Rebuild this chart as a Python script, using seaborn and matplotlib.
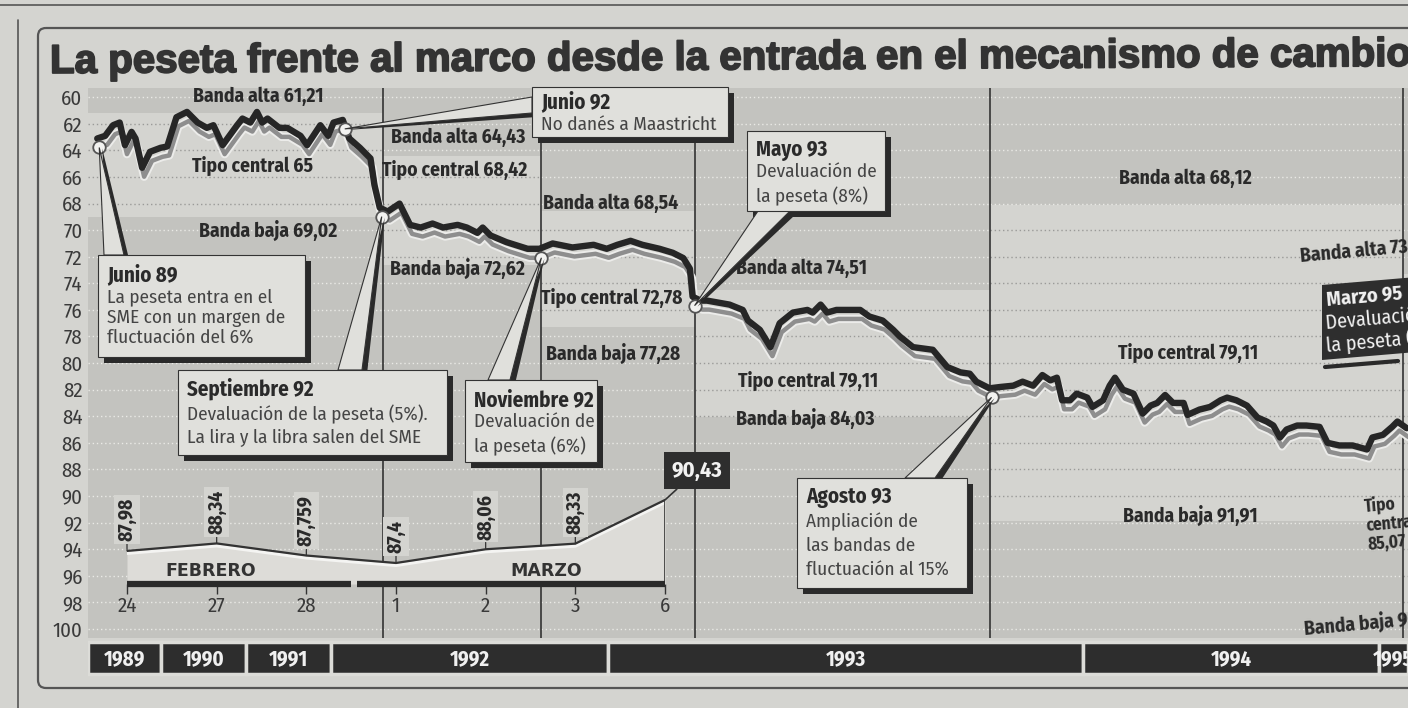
import numpy as np
import pandas as pd
import seaborn as sns
import matplotlib.pyplot as plt
import matplotlib.transforms as mtransforms
import matplotlib.patheffects as pe
from matplotlib import font_manager as fm
from matplotlib.patches import Rectangle, Polygon, FancyBboxPatch
from matplotlib.lines import Line2D

# --- datos -------------------------------------------------------------
# posición a lo largo del eje (0 = entrada, jun 89; 100 = borde derecho, mar 95)
pos = [0.7, 1.3, 1.9, 2.4, 2.8, 3.3, 3.6, 4.1, 4.7, 5.5, 6.0, 6.7, 7.5, 8.3, 9.0,
       9.5, 10.2, 11.3, 11.7, 12.3, 12.8, 13.2, 13.6, 14.5, 15.1, 16.1, 16.6, 17.6,
       18.2, 18.6, 19.3, 19.8, 20.6, 21.4, 21.7, 22.1, 22.7, 23.6, 24.4, 25.2, 26.1,
       26.9, 28.0, 28.7, 29.5, 29.9, 30.5, 31.7, 33.3, 34.2, 35.2, 36.7, 38.3, 39.3,
       40.1, 41.1, 42.0, 43.3, 44.3, 45.1, 45.6, 45.8, 46.4, 46.9, 48.6, 49.6, 50.0,
       50.9, 51.7, 52.4, 53.4, 54.5, 54.9, 55.5, 56.0, 56.7, 58.5, 59.2, 60.2, 61.0,
       61.5, 62.5, 64.0, 65.1, 66.1, 66.8, 67.3, 68.3, 69.1, 70.1, 70.8, 71.6, 72.3,
       72.9, 73.4, 73.8, 74.4, 74.9, 75.7, 76.1, 76.9, 77.4, 77.8, 78.4, 79.2, 79.9,
       80.5, 81.0, 81.6, 82.2, 83.0, 83.3, 84.2, 85.0, 85.8, 86.3, 87.0, 87.8, 88.6,
       89.3, 89.8, 90.3, 90.8, 91.6, 92.3, 93.3, 93.9, 94.8, 95.8, 96.9, 97.3, 98.1,
       98.8, 99.2, 99.9]
cambio = [63.1, 62.9, 62.1, 61.9, 63.6, 62.6, 63.1, 65.3, 64.1, 63.8, 63.7, 61.5, 61.1,
          61.9, 62.3, 62.1, 63.6, 62.1, 61.6, 61.9, 61.1, 61.9, 61.6, 62.3, 62.3, 62.9,
          63.6, 62.1, 62.9, 61.9, 61.7, 63.1, 63.8, 64.6, 66.6, 68.3, 68.6, 68.0, 69.6,
          69.8, 69.5, 69.8, 69.6, 69.8, 70.2, 69.8, 70.4, 70.9, 71.4, 71.4, 71.0, 71.3,
          71.1, 71.4, 71.1, 70.8, 71.1, 71.4, 71.7, 72.1, 72.9, 75.0, 75.3, 75.3, 75.6,
          76.0, 76.8, 77.5, 78.8, 77.0, 76.2, 76.0, 76.2, 75.6, 76.2, 76.0, 76.0, 76.5,
          76.8, 77.5, 78.0, 78.8, 79.0, 80.3, 80.7, 80.8, 81.4, 81.9, 81.8, 81.7, 81.4,
          81.7, 80.9, 81.3, 81.1, 82.8, 82.8, 82.3, 82.6, 83.3, 82.8, 81.7, 81.1, 82.0,
          82.3, 83.8, 83.2, 83.0, 82.4, 83.0, 83.0, 83.9, 83.5, 83.3, 82.8, 82.6, 82.8,
          83.2, 84.1, 84.4, 84.7, 85.6, 85.0, 84.7, 84.7, 84.8, 86.0, 86.2, 86.2, 86.5,
          85.6, 85.4, 84.8, 84.4, 84.9]

# tramos de bandas del SME
tramo_ini = [0, 22.35, 34.3, 46.0, 68.3, 99.6]
tramo_fin = [22.35, 34.3, 46.0, 68.3, 99.6, 100]
banda_alta = [61.21, 64.43, 68.54, 74.51, 68.12, 73.26]
tipo_central = [65.00, 68.42, 72.78, 79.11, 79.11, 85.07]
banda_baja = [69.02, 72.62, 77.28, 84.03, 91.91, 98.70]

# acontecimientos (sobre la serie)
ev_pos = [0.7, 19.3, 22.1, 34.2, 45.8, 68.3]
ev_val = [63.1, 61.7, 68.3, 71.4, 75.0, 81.9]
cortes = [22.35, 34.3, 46.0, 68.3, 99.6]

anios = ['1989', '1990', '1991', '1992', '1993', '1994', '1995']
anio_ini = [0, 5.5, 12.0, 18.4, 39.4, 75.4, 97.8]
anio_fin = [5.5, 12.0, 18.4, 39.4, 75.4, 97.8, 100]

# detalle febrero - marzo 95
dias = ['24', '27', '28', '1', '2', '3', '6']
ultimo = [87.98, 88.34, 87.759, 87.4, 88.06, 88.33, 90.43]
ultimo_txt = ['87,98', '88,34', '87,759', '87,4', '88,06', '88,33', '90,43']


# --- fuentes -----------------------------------------------------------
def elegir(prefs, fallback='DejaVu Sans'):
    pesos = {}
    for f in fm.fontManager.ttflist:
        w = f.weight if isinstance(f.weight, int) else fm.weight_dict.get(f.weight, 400)
        pesos.setdefault(f.name, set()).add(w)
    for p in prefs:
        if {400, 700} <= pesos.get(p, set()):
            return p
    return fallback


sns.set_theme(style="white")
COND = [elegir(['Fira Sans Condensed', 'IBM Plex Sans Condensed', 'Barlow Condensed',
                'PT Sans Narrow', 'Encode Sans Condensed', 'Liberation Sans Narrow',
                'Liberation Sans']), 'DejaVu Sans']
TIT = [elegir(['Liberation Sans', 'Arimo']), 'DejaVu Sans']
plt.rcParams['font.family'] = COND

PAPEL = '#d4d4d0'
OSCURO = '#c3c3bf'
TINTA = '#2a2a2a'
CAJA = '#e0e0dc'

W, H = 1408, 708
fig = plt.figure(figsize=(W / 100, H / 100), dpi=100, facecolor=PAPEL)
T = mtransforms.Affine2D().scale(1 / W, -1 / H).translate(0, 1) + fig.transFigure


def fmt(v):
    return f"{v:g}".replace('.', ',')


# marco de la página
fig.add_artist(Line2D([0, W], [5, 5], transform=T, color='#555', lw=1.2))
fig.add_artist(Line2D([18, 18], [20, H], transform=T, color='#555', lw=1.2))
fig.add_artist(FancyBboxPatch((38, 28), 1440, 660, boxstyle='round,pad=0,rounding_size=8',
                              transform=T, fc='none', ec='#555', lw=1.6))

fig.text(50, 62, 'La peseta frente al marco desde la entrada en el mecanismo de cambios',
         transform=T, fontsize=29, weight='bold', color='#333', va='center',
         family=TIT, rotation=0.3, rotation_mode='anchor',
         path_effects=[pe.withStroke(linewidth=1.3, foreground='#333')])

# --- gráfico principal -------------------------------------------------
ax = fig.add_axes([88 / W, 1 - 682 / H, 1320 / W, 594 / H])
ax.patch.set_alpha(0)
TOP, BOT = 59.3, 100.7

for a, b, al, ba in zip(tramo_ini, tramo_fin, banda_alta, banda_baja):
    ax.fill_between([a, b], TOP, al, color=OSCURO, lw=0, zorder=0)
    ax.fill_between([a, b], ba, BOT, color=OSCURO, lw=0, zorder=0)
    for v in range(60, 101, 2):
        fuera = v < al or v > ba
        ax.hlines(v, a, b, color='#eaeae6' if fuera else '#9a9a98', lw=1,
                  ls=(0, (1, 2)), zorder=1)
ax.vlines(cortes, TOP, BOT, color='#333', lw=1.2, zorder=2)

df = pd.DataFrame({'pos': pos, 'cambio': cambio})
sombra_tf = mtransforms.offset_copy(ax.transData, fig=fig, x=2, y=-9, units='dots')
sns.lineplot(data=df, x='pos', y='cambio', ax=ax, estimator=None, sort=False,
             color='#8e8e8e', lw=3.2, zorder=4,
             path_effects=[pe.Stroke(linewidth=6, foreground='#ececea'), pe.Normal()])
ax.lines[-1].set_transform(sombra_tf)
sns.lineplot(data=df, x='pos', y='cambio', ax=ax, estimator=None, sort=False,
             color='#262626', lw=4.6, zorder=5)
ax.plot(ev_pos, ev_val, 'o', ms=9, mfc='#f2f2f0', mec='#555', mew=1.3,
        transform=sombra_tf, zorder=6)

# barra de años
ax.barh([102.2] * len(anios), [b - a for a, b in zip(anio_ini, anio_fin)], left=anio_ini,
        height=2.45, color='#2d2d2d', edgecolor='#dcdcd8', linewidth=2.5, zorder=3)
for a, b, t in zip(anio_ini, anio_fin, anios):
    ax.text((a + b) / 2, 102.3, t, ha='center', va='center', color='#f0f0f0',
            fontsize=15, weight='bold', zorder=4, clip_on=True)

ax.set_xlim(0, 100)
ax.set_ylim(104.0, TOP)
ax.set_xlabel('')
ax.set_ylabel('')
ax.set_xticks([])
ax.set_yticks(range(60, 101, 2))
ax.tick_params(axis='y', length=0, pad=4, labelsize=15, labelcolor='#3a3a3a')
for s in ax.spines.values():
    s.set_visible(False)

# rótulos de bandas
etq_pos = [
    [(258, 96), (253, 166), (268, 230)],
    [(458, 137), (455, 170), (457, 268)],
    [(611, 203), (612, 298), (613, 353)],
    [(801, 268), (808, 381), (805, 418)],
    [(1185, 178), (1188, 353), (1190, 515)],
]
for i, trio in enumerate(etq_pos):
    textos = ['Banda alta ' + fmt(banda_alta[i]), 'Tipo central ' + fmt(tipo_central[i]),
              'Banda baja ' + fmt(banda_baja[i])]
    for (x, y), t in zip(trio, textos):
        ax.text(x, y, t, transform=T, ha='center', va='center', fontsize=14,
                weight='bold', color=TINTA, zorder=7)
ax.text(1300, 256, 'Banda alta ' + fmt(banda_alta[5]), transform=T, ha='left', va='center',
        fontsize=14, weight='bold', color=TINTA, rotation=5,
        rotation_mode='anchor', zorder=7)
ax.text(1366, 525, 'Tipo\ncentral\n' + fmt(tipo_central[5]), transform=T, ha='left',
        va='center', fontsize=12.5, weight='bold', color=TINTA, rotation=5,
        rotation_mode='anchor', linespacing=1.1, zorder=7)
ax.text(1304, 628, 'Banda baja ' + fmt(banda_baja[5]), transform=T, ha='left', va='center',
        fontsize=14, weight='bold', color=TINTA, rotation=5,
        rotation_mode='anchor', zorder=7)


# --- recuadros de acontecimientos ---------------------------------------
def punta(i):
    x, y = ax.transData.transform((ev_pos[i], ev_val[i]))
    return x + 2, H - y + 9


def recuadro(caja, base, ev, titulo, lineas, ys):
    x0, y0, x1, y1 = caja
    tx, ty = punta(ev)
    (b0x, b0y), (b1x, b1y) = base
    kw = dict(transform=T, clip_on=False)
    ax.add_patch(Polygon([(b0x + 5, b0y + 4), (b1x + 5, b1y + 4), (tx + 3, ty + 1)],
                         fc=TINTA, ec='none', zorder=8, **kw))
    ax.add_patch(Rectangle((x0 + 6, y0 + 6), x1 - x0, y1 - y0, fc=TINTA, ec='none',
                           zorder=8, **kw))
    ax.add_patch(Polygon([(b0x, b0y), (b1x, b1y), (tx, ty)], fc=CAJA, ec='#333', lw=0.8,
                         zorder=9, **kw))
    ax.add_patch(Rectangle((x0, y0), x1 - x0, y1 - y0, fc=CAJA, ec='#333', lw=0.8,
                           zorder=9, **kw))
    ax.text(x0 + 9, ys[0], titulo, transform=T, va='center', fontsize=15, weight='bold',
            color=TINTA, zorder=10)
    for t, y in zip(lineas, ys[1:]):
        ax.text(x0 + 9, y, t, transform=T, va='center', fontsize=13.8,
                color='#454545', zorder=10)


recuadro((98, 255, 305, 357), [(104, 255), (124, 255)], 0, 'Junio 89',
         ['La peseta entra en el', 'SME con un margen de', 'fluctuación del 6%'],
         [275, 297, 318, 339])
recuadro((532, 87, 728, 137), [(532, 97), (532, 113)], 1, 'Junio 92',
         ['No danés a Maastricht'], [102, 125])
recuadro((178, 370, 447, 455), [(338, 370), (362, 370)], 2, 'Septiembre 92',
         ['Devaluación de la peseta (5%).', 'La lira y la libra salen del SME'],
         [389, 414, 437])
recuadro((465, 380, 597, 462), [(488, 380), (510, 380)], 3, 'Noviembre 92',
         ['Devaluación de', 'la peseta (6%)'], [400, 422, 446])
recuadro((747, 131, 885, 211), [(758, 211), (790, 211)], 4, 'Mayo 93',
         ['Devaluación de', 'la peseta (8%)'], [150, 172, 196])
recuadro((797, 478, 967, 588), [(905, 478), (935, 478)], 5, 'Agosto 93',
         ['Ampliación de', 'las bandas de', 'fluctuación al 15%'], [497, 522, 546, 570])

# Marzo 95 (recuadro oscuro, cortado por el borde)
ax.add_patch(Polygon([(1322, 285), (1440, 275), (1440, 350), (1322, 360)], transform=T,
                     fc='#2e2e2e', ec='none', clip_on=False, zorder=9))
ax.add_artist(Line2D([1325, 1398], [367, 361], transform=T, color=TINTA, lw=3, zorder=9))
for t, y, w in [('Marzo 95', 300, 'bold'), ('Devaluación de', 323, 'normal'),
                ('la peseta (7%)', 345, 'normal')]:
    ax.text(1326, y, t, transform=T, va='center', fontsize=14.5, weight=w,
            color='#f2f2f2', rotation=5, rotation_mode='anchor', zorder=10)

# --- detalle de los últimos días ----------------------------------------
axi = fig.add_axes([127 / W, 1 - 584 / H, 538 / W, 114 / H])
axi.patch.set_alpha(0)
BASE = 86.39
dfi = pd.DataFrame({'dia': np.arange(len(dias)), 'ultimo': ultimo})
axi.fill_between(dfi['dia'], dfi['ultimo'], BASE, color='#dddcd8', lw=0, zorder=1)
blanco_tf = mtransforms.offset_copy(axi.transData, fig=fig, x=0, y=-2.5, units='dots')
sns.lineplot(data=dfi, x='dia', y='ultimo', ax=axi, estimator=None, color='#f4f4f2',
             lw=2.2, zorder=2)
axi.lines[-1].set_transform(blanco_tf)
sns.lineplot(data=dfi, x='dia', y='ultimo', ax=axi, estimator=None, color='#333',
             lw=1.6, zorder=3)
axi.vlines(6, BASE, ultimo[-1], color='#333', lw=1.2, zorder=3)
axi.hlines([BASE, BASE], [0, 2.56], [2.5, 6], color=TINTA, lw=4.5, zorder=4, clip_on=False)

for i, (v, t) in enumerate(zip(ultimo[:-1], ultimo_txt[:-1])):
    axi.annotate(t, (i, v), xytext=(0, 7), textcoords='offset points', rotation=90,
                 ha='center', va='bottom', fontsize=14, weight='bold',
                 color=TINTA, annotation_clip=False,
                 bbox=dict(boxstyle='square,pad=0.15', fc=PAPEL, ec='none'),
                 arrowprops=dict(arrowstyle='-', lw=0.9, color='#333', shrinkA=0, shrinkB=0))
axi.annotate(ultimo_txt[-1], (6, ultimo[-1]), xytext=(23, 21), textcoords='offset points',
             ha='center', va='center', fontsize=16, weight='bold',
             color='#f2f2f2', annotation_clip=False,
             bbox=dict(boxstyle='square,pad=0.35', fc='#2e2e2e', ec='none'),
             arrowprops=dict(arrowstyle='-', lw=1.2, color='#333', shrinkA=0, shrinkB=0))
axi.text(0.93, 87.02, 'FEBRERO', ha='center', va='center', fontsize=12.5, weight='bold',
         color='#333', family=['DejaVu Sans'])
axi.text(4.67, 87.02, 'MARZO', ha='center', va='center', fontsize=12.5, weight='bold',
         color='#333', family=['DejaVu Sans'])

axi.set_xlim(0, 6)
axi.set_ylim(BASE, 91.87)
axi.set_xticks(np.arange(len(dias)), dias)
axi.set_yticks([])
axi.set_xlabel('')
axi.set_ylabel('')
axi.tick_params(axis='x', length=7, width=1, color='#333', pad=2, labelsize=15,
                labelcolor='#3a3a3a', bottom=True)
for s in axi.spines.values():
    s.set_visible(False)

fig.savefig('out.png', dpi=100, facecolor=PAPEL)
